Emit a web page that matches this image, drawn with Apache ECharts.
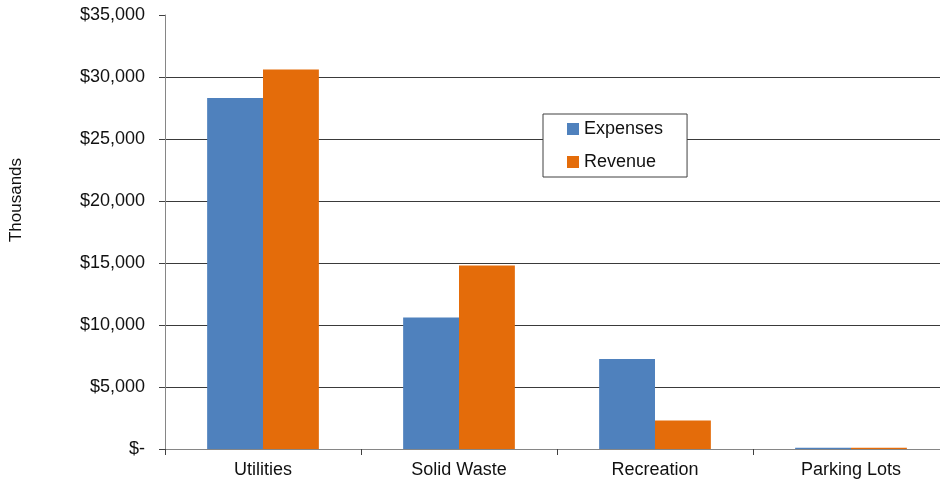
<!DOCTYPE html>
<html>
<head>
<meta charset="utf-8">
<script src="https://cdn.jsdelivr.net/npm/echarts@6/dist/echarts.min.js"></script>
<style>
  html, body { margin: 0; padding: 0; background: #fff; overflow: hidden; }
  #chart { width: 949px; height: 483px; }
</style>
</head>
<body>
<div id="chart"></div>
<script>
// Expenses and revenue by enterprise fund, in thousands of dollars
const categories = ['Utilities', 'Solid Waste', 'Recreation', 'Parking Lots'];
const expenses = [28300, 10600, 7250, 100];
const revenue = [30600, 14800, 2300, 100];
const yTicks = [0, 5000, 10000, 15000, 20000, 25000, 30000, 35000];

const FONT = 'Liberation Sans, Arial, sans-serif';

function money(v) {
  if (v === 0) return '$-';
  return '$' + v.toLocaleString('en-US');
}

const chart = echarts.init(document.getElementById('chart'), null, { renderer: 'canvas' });

chart.setOption({
  animation: false,
  backgroundColor: '#ffffff',
  textStyle: { fontFamily: FONT },
  // the last category runs slightly past the visible page edge
  grid: { left: 165, top: 15, bottom: 34, right: 0, containLabel: false },
  legend: {
    orient: 'vertical',
    left: 543,
    top: 114,
    padding: [6, 24, 6, 24],
    itemGap: 15,
    itemWidth: 12,
    itemHeight: 12,
    icon: 'rect',
    borderColor: '#404040',
    borderWidth: 1,
    backgroundColor: '#ffffff',
    textStyle: { fontFamily: FONT, fontSize: 18, color: '#111111', lineHeight: 18 },
    data: ['Expenses', 'Revenue']
  },
  xAxis: {
    type: 'category',
    data: categories,
    axisLine: { lineStyle: { color: '#868686', width: 1 } },
    axisTick: { show: true, length: 6, lineStyle: { color: '#404040' } },
    axisLabel: { fontFamily: FONT, fontSize: 18, color: '#111111', margin: 12 },
    splitLine: { show: false }
  },
  yAxis: {
    type: 'value',
    min: yTicks[0],
    max: yTicks[yTicks.length - 1],
    interval: yTicks[1] - yTicks[0],
    axisLine: { show: true, lineStyle: { color: '#868686', width: 1 } },
    axisTick: { show: true, length: 6, lineStyle: { color: '#404040' } },
    axisLabel: {
      fontFamily: FONT, fontSize: 18, color: '#111111', margin: 20,
      formatter: money
    },
    splitLine: { show: true, showMaxLine: false, lineStyle: { color: '#3a3a3a', width: 1 } }
  },
  graphic: [{
    type: 'text',
    x: 16,
    y: 200,
    rotation: Math.PI / 2,
    style: {
      text: 'Thousands',
      fontFamily: FONT,
      fontSize: 17,
      fill: '#111111',
      align: 'center',
      verticalAlign: 'middle'
    }
  }],
  series: [
    {
      name: 'Expenses',
      type: 'bar',
      data: expenses,
      barGap: '0%',
      barCategoryGap: '43%',
      itemStyle: { color: '#4F81BD' }
    },
    {
      name: 'Revenue',
      type: 'bar',
      data: revenue,
      barGap: '0%',
      barCategoryGap: '43%',
      itemStyle: { color: '#E46C0A' }
    }
  ]
});
</script>
</body>
</html>
